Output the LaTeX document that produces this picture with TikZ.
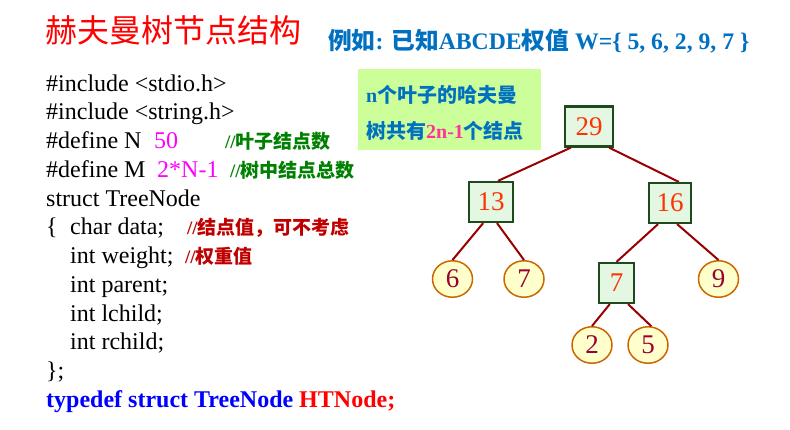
\documentclass[tikz,border=0pt]{standalone}
\usepackage{fontspec}
\setmainfont{Liberation Serif}
\newfontfamily\cjk{Noto Sans CJK SC}
\usetikzlibrary{shapes.geometric,calc}
\definecolor{titlered}{HTML}{FF0000}
\definecolor{headblue}{HTML}{0070C0}
\definecolor{magentac}{HTML}{FF00FF}
\definecolor{cmtgreen}{HTML}{008000}
\definecolor{cmtred}{HTML}{C00000}
\definecolor{kwblue}{HTML}{0000FF}
\definecolor{notefill}{HTML}{CCFF99}
\definecolor{notepink}{HTML}{FF3399}
\definecolor{boxfill}{HTML}{E3F7E3}
\definecolor{boxline}{HTML}{1E4A1E}
\definecolor{numred}{HTML}{FF3300}
\definecolor{leaffill}{HTML}{FFFFCC}
\definecolor{leafline}{HTML}{CC6600}
\definecolor{leaftext}{HTML}{990033}
\definecolor{edgered}{HTML}{990000}
\tikzset{
  codeline/.style={anchor=base west, inner sep=0pt, font=\fontsize{24}{28}\selectfont},
  cmt/.style={anchor=base west, inner sep=0pt, font=\fontsize{19}{22}\selectfont\bfseries},
  ibox/.style={draw=boxline, line width=2.2pt, fill=boxfill, inner sep=0pt,
    minimum height=40pt, text=numred, font=\fontsize{27}{27}\selectfont},
  leaf/.style={ellipse, draw=leafline, line width=1.5pt, fill=leaffill, inner sep=0pt,
    minimum width=40pt, minimum height=36.5pt, text=leaftext, font=\fontsize{27}{27}\selectfont},
  treeedge/.style={draw=edgered, line width=2pt},
  notetext/.style={anchor=base west, inner sep=0pt, text=headblue, font=\fontsize{20}{24}\selectfont\bfseries}
}
\begin{document}
\begin{tikzpicture}[x=1pt,y=-1pt]
\useasboundingbox (0,0) rectangle (790,429);
% title
\node[anchor=base west, inner sep=0pt, text=titlered, font=\fontsize{32}{35}\selectfont\cjk] (title) at (45,42.5) {赫夫曼树节点结构};
\node[anchor=base west, inner sep=0pt, text=headblue, font=\fontsize{23.7}{28}\selectfont\bfseries] (head) at (328,49)
  {{\cjk 例如}: {\cjk 已知}ABCDE{\cjk 权值} W=\{ 5, 6, 2, 9, 7 \}};
% code
\node[codeline] (l1) at (46,91) {\#include <stdio.h>};
\node[codeline] (l2) at (46,119.75) {\#include <string.h>};
\node[codeline] (l3) at (46,148.5) {\#define N};
\node[codeline, text=magentac] (l3v) at (154,148.5) {50};
\node[cmt, text=cmtgreen] (c3) at (225,148.5) {//{\cjk 叶子结点数}};
\node[codeline] (l4) at (46,177.25) {\#define M};
\node[codeline, text=magentac] (l4v) at (157,177.25) {2*N-1};
\node[cmt, text=cmtgreen] (c4) at (230,177.25) {//{\cjk 树中结点总数}};
\node[codeline] (l5) at (46,206) {struct TreeNode};
\node[codeline] (l6) at (46,234.75) {\{};
\node[codeline] (l6b) at (70,234.75) {char data;};
\node[cmt, text=cmtred] (c6) at (187,234.75) {//{\cjk 结点值，可不考虑}};
\node[codeline] (l7) at (70,263.5) {int weight;};
\node[cmt, text=cmtred] (c7) at (185,263.5) {//{\cjk 权重值}};
\node[codeline] (l8) at (70,292.25) {int parent;};
\node[codeline] (l9) at (70,321) {int lchild;};
\node[codeline] (l10) at (70,349.75) {int rchild;};
\node[codeline] (l11) at (46,378.5) {\};};
\node[codeline, font=\fontsize{24}{28}\selectfont\bfseries] (l12) at (46,407.25)
  {\textcolor{kwblue}{typedef struct TreeNode} \textcolor{titlered}{HTNode;}};
% note box
\node[anchor=north west, fill=notefill, minimum width=183pt, minimum height=81pt, inner sep=0pt] (note) at (358,69) {};
\node[notetext] (n1) at (366,102) {n{\cjk 个叶子的哈夫曼}};
\node[notetext] (n2) at (366,138) {{\cjk 树共有}\textcolor{notepink}{2n-1}{\cjk 个结点}};
% tree
\node[ibox, minimum width=48pt] (t29) at (589,126.5) {29};
\node[ibox, minimum width=44pt] (t13) at (491,202) {13};
\node[ibox, minimum width=42pt] (t16) at (670,203) {16};
\node[ibox, minimum width=35pt] (t7) at (616.5,283) {7};
\node[leaf] (f6) at (452.5,279) {6};
\node[leaf] (f7) at (524,279) {7};
\node[leaf] (f9) at (718.5,279) {9};
\node[leaf] (f2) at (592,345) {2};
\node[leaf] (f5) at (648,345) {5};
\draw[treeedge] ($(t29.south west)!0.14!(t29.south east)$) -- ($(t13.north west)!0.65!(t13.north east)$);
\draw[treeedge] ($(t29.south west)!0.9!(t29.south east)$) -- ($(t16.north west)!0.7!(t16.north east)$);
\draw[treeedge] ($(t13.south west)!0.33!(t13.south east)$) -- (f6.north);
\draw[treeedge] ($(t13.south west)!0.63!(t13.south east)$) -- (f7.north);
\draw[treeedge] ($(t16.south west)!0.23!(t16.south east)$) -- (t7.north);
\draw[treeedge] ($(t16.south west)!0.66!(t16.south east)$) -- (f9.north);
\draw[treeedge] ($(t7.south west)!0.32!(t7.south east)$) -- (f2.north);
\draw[treeedge] ($(t7.south west)!0.81!(t7.south east)$) -- (f5.80);
\end{tikzpicture}
\end{document}
